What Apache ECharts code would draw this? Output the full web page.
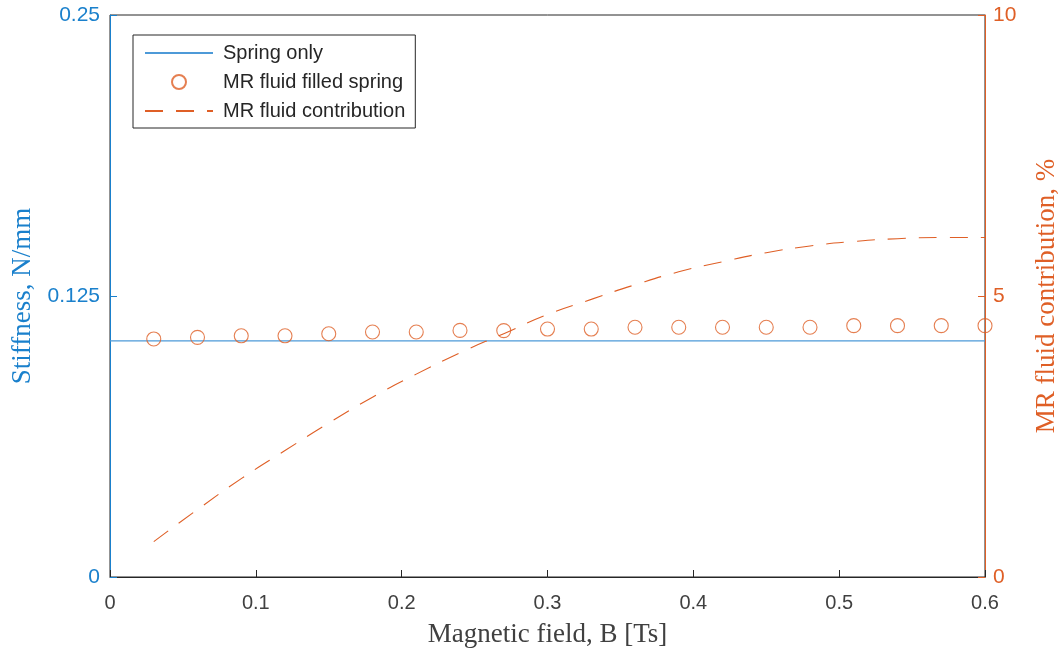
<!DOCTYPE html>
<html>
<head>
<meta charset="utf-8">
<script src="https://cdn.jsdelivr.net/npm/echarts@6/dist/echarts.min.js"></script>
<style>
html,body{margin:0;padding:0;background:#fff;}
#chart{width:1058px;height:651px;}
</style>
</head>
<body>
<div id="chart"></div>
<script>
// Magnetic field values (Ts) for the measured points
const fieldB = [0.03,0.06,0.09,0.12,0.15,0.18,0.21,0.24,0.27,0.30,0.33,0.36,0.39,0.42,0.45,0.48,0.51,0.54,0.57,0.60];
// Spring only stiffness (N/mm)
const springX = [0, 0.6];
const springK = [0.105, 0.105];
// MR fluid filled spring stiffness (N/mm)
const mrFilledK = [0.1059,0.1066,0.1073,0.1073,0.1082,0.1090,0.1090,0.1097,0.1096,0.1103,0.1103,0.1111,0.1111,0.1111,0.1111,0.1111,0.1118,0.1118,0.1118,0.1118];
// MR fluid contribution (%)
const mrContribution = [0.63,1.20,1.75,2.25,2.74,3.20,3.61,3.99,4.33,4.67,4.94,5.20,5.43,5.61,5.77,5.89,5.97,6.02,6.04,6.04];
// tick labels
const xTicks = ['0','0.1','0.2','0.3','0.4','0.5','0.6'];
const leftTicks = ['0','0.125','0.25'];
const rightTicks = ['0','5','10'];

const BLUE = '#1a80cc', ORANGE = '#DF5F26', DARK = '#262626', GRAY = '#404040';
const SANS = 'Liberation Sans', SERIF = 'Liberation Serif';

const chart = echarts.init(document.getElementById('chart'), null, {renderer:'canvas'});
const pair = (xs, ys) => xs.map((x,i)=>[x, ys[i]]);

chart.setOption({
  animation:false,
  backgroundColor:'#fff',
  grid:{left:110,right:73,top:15,bottom:74,show:true,borderColor:DARK,borderWidth:1,backgroundColor:'#fff',containLabel:false,outerBoundsMode:'none'},
  legend:{
    orient:'vertical', left:133, top:35,
    data:[
      {name:'Spring only', itemStyle:{opacity:0}},
      {name:'MR fluid filled spring', icon:'circle'},
      {name:'MR fluid contribution', itemStyle:{opacity:0}}
    ],
    itemWidth:68, itemHeight:14, itemGap:7,
    padding:[7,10,6,11],
    borderColor:DARK, borderWidth:1, backgroundColor:'#fff', borderRadius:0,
    textStyle:{fontFamily:SANS,fontSize:20,color:DARK,lineHeight:22,padding:[0,0,0,5]}
  },
  xAxis:{
    type:'value', min:0, max:0.6, interval:0.1,
    name:'Magnetic field, B [Ts]', nameLocation:'middle', nameGap:44, nameMoveOverlap:false,
    nameTextStyle:{fontFamily:SERIF,fontSize:27,color:GRAY},
    axisLine:{show:true,lineStyle:{color:DARK,width:1}},
    axisTick:{show:true,inside:true,length:7,lineStyle:{color:DARK}},
    axisLabel:{fontFamily:SANS,fontSize:20,color:GRAY,margin:16,
      formatter:(v)=>xTicks[Math.round(v*10)]},
    splitLine:{show:false}
  },
  yAxis:[{
    type:'value', min:0, max:0.25, interval:0.125, position:'left',
    name:'Stiffness, N/mm', nameLocation:'middle', nameGap:74, nameRotate:90, nameMoveOverlap:false,
    nameTextStyle:{fontFamily:SERIF,fontSize:27,color:BLUE},
    axisLine:{show:true,lineStyle:{color:BLUE,width:1}},
    axisTick:{show:true,inside:true,length:7,lineStyle:{color:BLUE}},
    axisLabel:{fontFamily:SANS,fontSize:21,color:BLUE,margin:10,padding:[7,0,0,0],
      formatter:(v)=>leftTicks[Math.round(v/0.125)]},
    splitLine:{show:false}
  },{
    type:'value', min:0, max:10, interval:5, position:'right',
    name:'MR fluid contribution, %', nameLocation:'middle', nameGap:48, nameRotate:90, nameMoveOverlap:false,
    nameTextStyle:{fontFamily:SERIF,fontSize:27,color:ORANGE},
    axisLine:{show:true,lineStyle:{color:ORANGE,width:1}},
    axisTick:{show:true,inside:true,length:7,lineStyle:{color:ORANGE}},
    axisLabel:{fontFamily:SANS,fontSize:21,color:ORANGE,margin:8,padding:[7,0,0,0],
      formatter:(v)=>rightTicks[Math.round(v/5)]},
    splitLine:{show:false}
  }],
  series:[{
    name:'Spring only', type:'line', yAxisIndex:0,
    data:pair(springX, springK), symbol:'none', showSymbol:false,
    lineStyle:{color:'#4d9ad8',width:1.3}, itemStyle:{color:'#4d9ad8'}, z:3
  },{
    name:'MR fluid filled spring', type:'scatter', yAxisIndex:0,
    data:pair(fieldB, mrFilledK), symbol:'circle', symbolSize:14,
    itemStyle:{color:'rgba(255,255,255,0)',borderColor:ORANGE,borderWidth:1.1}, z:4
  },{
    name:'MR fluid contribution', type:'line', yAxisIndex:1,
    data:pair(fieldB, mrContribution), symbol:'none', showSymbol:false, smooth:true,
    lineStyle:{color:ORANGE,width:1.1,type:[18,13]}, itemStyle:{color:ORANGE}, z:3
  }]
});
</script>
</body>
</html>
